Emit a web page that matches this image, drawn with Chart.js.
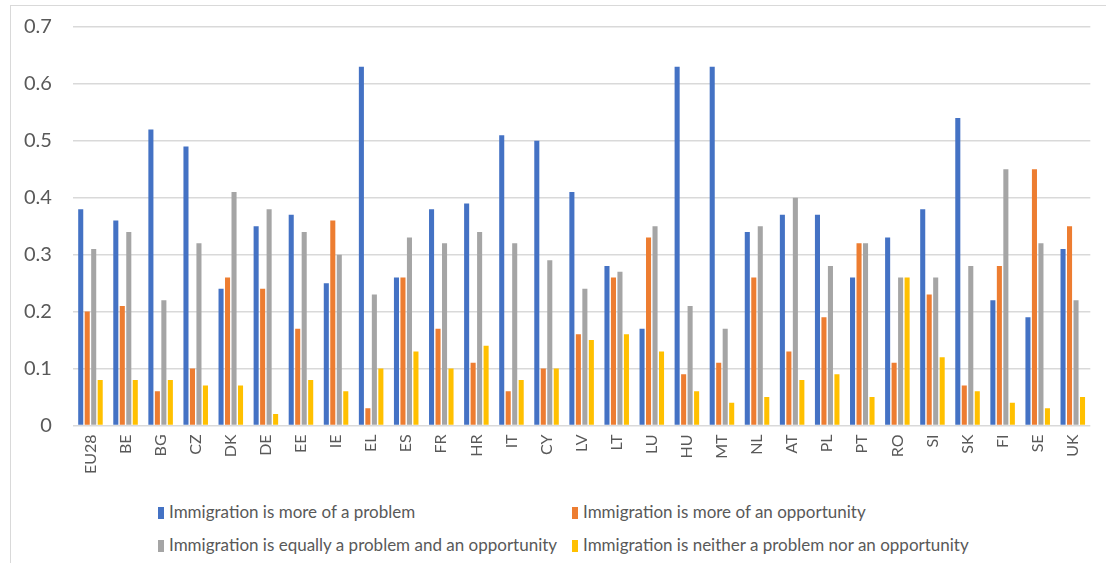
<!DOCTYPE html>
<html>
<head>
<meta charset="utf-8">
<script src="https://cdn.jsdelivr.net/npm/chart.js@4/dist/chart.umd.min.js"></script>
<style>
  html, body { margin: 0; padding: 0; background: #fff; }
  body { width: 1106px; height: 563px; position: relative; overflow: hidden; font-family: Lato, "Open Sans", sans-serif; }
  #frame { position: absolute; left: 10px; top: 5px; width: 1100px; height: 570px; border: 1px solid #d9d9d9; box-sizing: border-box; }
  #c { position: absolute; left: 3px; top: -6px; }
  .leg { position: absolute; font-size: 17px; color: #595959; white-space: nowrap; line-height: 20px; }
  .leg i { display: inline-block; width: 6px; height: 12px; margin-right: 5px; vertical-align: -1px; }
</style>
</head>
<body>
<div id="frame"></div>
<canvas id="c" width="1098" height="489"></canvas>
<div id="legend"></div>
<script>
const categories = ["EU28","BE","BG","CZ","DK","DE","EE","IE","EL","ES","FR","HR","IT","CY","LV","LT","LU","HU","MT","NL","AT","PL","PT","RO","SI","SK","FI","SE","UK"];
const seriesNames = [
  "Immigration is more of a problem",
  "Immigration is more of an opportunity",
  "Immigration is equally a problem and an opportunity",
  "Immigration is neither a problem nor an opportunity"
];
const moreProblem     = [0.38,0.36,0.52,0.49,0.24,0.35,0.37,0.25,0.63,0.26,0.38,0.39,0.51,0.50,0.41,0.28,0.17,0.63,0.63,0.34,0.37,0.37,0.26,0.33,0.38,0.54,0.22,0.19,0.31];
const moreOpportunity = [0.20,0.21,0.06,0.10,0.26,0.24,0.17,0.36,0.03,0.26,0.17,0.11,0.06,0.10,0.16,0.26,0.33,0.09,0.11,0.26,0.13,0.19,0.32,0.11,0.23,0.07,0.28,0.45,0.35];
const equally         = [0.31,0.34,0.22,0.32,0.41,0.38,0.34,0.30,0.23,0.33,0.32,0.34,0.32,0.29,0.24,0.27,0.35,0.21,0.17,0.35,0.40,0.28,0.32,0.26,0.26,0.28,0.45,0.32,0.22];
const neither         = [0.08,0.08,0.08,0.07,0.07,0.02,0.08,0.06,0.10,0.13,0.10,0.14,0.08,0.10,0.15,0.16,0.13,0.06,0.04,0.05,0.08,0.09,0.05,0.26,0.12,0.06,0.04,0.03,0.05];
const yTicks = [0, 0.1, 0.2, 0.3, 0.4, 0.5, 0.6, 0.7];

const colors = ["#4472C4", "#ED7D31", "#A5A5A5", "#FFC000"];
const values = [moreProblem, moreOpportunity, equally, neither];

new Chart(document.getElementById('c'), {
  type: 'bar',
  data: {
    labels: categories,
    datasets: values.map((v, i) => ({
      label: seriesNames[i],
      data: v,
      backgroundColor: colors[i],
      borderWidth: 0,
      categoryPercentage: 0.74,
      barPercentage: 0.78
    }))
  },
  options: {
    responsive: false,
    animation: false,
    layout: { padding: { top: 7, right: 1, left: 0, bottom: 0 } },
    plugins: { legend: { display: false }, tooltip: { enabled: false }, title: { display: false } },
    scales: {
      x: {
        grid: { display: false, drawTicks: false },
        border: { display: false },
        ticks: {
          minRotation: 90, maxRotation: 90, autoSkip: false,
          color: '#595959', font: { family: 'Lato', size: 16 }, padding: 9
        }
      },
      y: {
        min: 0, max: 0.7,
        afterBuildTicks: (ax) => { ax.ticks = yTicks.map(v => ({ value: v })); },
        grid: { color: '#d9d9d9', lineWidth: 1.5, drawTicks: false },
        border: { display: false },
        ticks: {
          color: '#595959', font: { family: 'Lato', size: 20 }, padding: 21,
          callback: (v) => String(Math.round(v * 10) / 10)
        }
      }
    }
  }
});

const legendPos = [[158, 502], [572, 502], [158, 535], [572, 535]];
const legendEl = document.getElementById('legend');
seriesNames.forEach((n, i) => {
  const d = document.createElement('div');
  d.className = 'leg';
  d.style.left = legendPos[i][0] + 'px';
  d.style.top = legendPos[i][1] + 'px';
  d.innerHTML = '<i style="background:' + colors[i] + '"></i>' + n;
  legendEl.appendChild(d);
});
</script>
</body>
</html>
